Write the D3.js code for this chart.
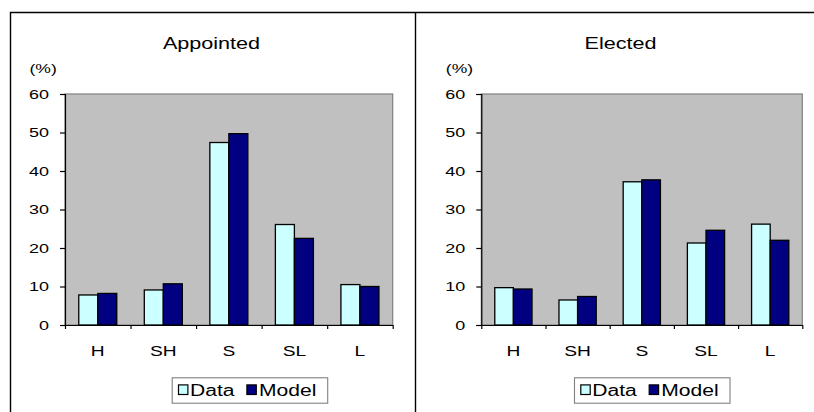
<!DOCTYPE html>
<html>
<head>
<meta charset="utf-8">
<script src="https://cdn.jsdelivr.net/npm/d3@7"></script>
<style>
  html, body { margin: 0; padding: 0; background: #ffffff; }
  svg { display: block; }
  text { font-family: "Liberation Sans", Arial, sans-serif; fill: #000; }
</style>
</head>
<body>
<svg id="chart" width="814" height="412"></svg>
<script>
// Distribution of outcomes by category, observed vs. model-predicted (%)
const categories = ["H", "SH", "S", "SL", "L"];
const seriesNames = ["Data", "Model"];
const seriesColors = ["#ccffff", "#000080"];
const yTicks = [0, 10, 20, 30, 40, 50, 60];

const appointedData  = [7.8, 9.1, 47.4, 26.1, 10.5];
const appointedModel = [8.2, 10.7, 49.7, 22.5, 10.0];
const electedData    = [9.7, 6.5, 37.2, 21.3, 26.2];
const electedModel   = [9.35, 7.4, 37.7, 24.6, 22.0];

const panels = [
  { title: "Appointed", data: appointedData, model: appointedModel, left: 10 },
  { title: "Elected",   data: electedData,   model: electedModel,   left: 415 }
];

const svg = d3.select("#chart");
const SX = 1.35; // horizontally widened lettering

function label(g, x, y, str, size, anchor) {
  return g.append("text")
    .attr("transform", `translate(${x},${y}) scale(${SX},1)`)
    .attr("text-anchor", anchor || "start")
    .style("font-size", size + "px")
    .text(str);
}

// panel frames
svg.append("path")
  .attr("d", "M10.5,412 V12.5 H814 M415.5,12.5 V412")
  .attr("fill", "none").attr("stroke", "#000").attr("stroke-width", 1.4);

panels.forEach((p, i) => {
  const g = svg.append("g");
  const x0 = i === 0 ? 65 : 481.3;
  const x1 = i === 0 ? 392.7 : 802.3;
  const yTop = 94, yBot = 325;

  const x = d3.scaleBand().domain(categories).range([x0, x1])
    .paddingInner(0.42).paddingOuter(0.21);
  const xs = d3.scaleBand().domain(seriesNames).range([0, x.bandwidth()]).padding(0);
  const y = d3.scaleLinear().domain([0, 60]).range([yBot, yTop]);

  // plot area
  g.append("rect")
    .attr("x", x0).attr("y", yTop).attr("width", x1 - x0).attr("height", yBot - yTop)
    .attr("fill", "#c0c0c0").attr("stroke", "#808080").attr("stroke-width", 1.2);

  // bars
  const rows = categories.map((c, k) => ({ c, vals: [p.data[k], p.model[k]] }));
  g.selectAll("g.cat").data(rows).join("g")
    .attr("transform", d => `translate(${x(d.c)},0)`)
    .selectAll("rect").data(d => d.vals.map((v, s) => ({ v, s })))
    .join("rect")
      .attr("x", d => xs(seriesNames[d.s]))
      .attr("width", xs.bandwidth())
      .attr("y", d => y(d.v))
      .attr("height", d => y(0) - y(d.v))
      .attr("fill", d => seriesColors[d.s])
      .attr("stroke", "#000").attr("stroke-width", 1.3);

  // y axis
  const ya = g.append("g").attr("transform", `translate(${x0},0)`)
    .call(d3.axisLeft(y).tickValues(yTicks).tickSize(5).tickFormat(""));
  ya.selectAll("path,line").attr("stroke", "#000").attr("stroke-width", 1.2);
  yTicks.forEach(t => label(g, x0 - 16, y(t) + 4.8, String(t), 13.3, "end"));

  // x axis: ticks at category boundaries
  const step = x.step();
  const bounds = d3.range(categories.length + 1).map(k => x0 + k * step);
  const xb = d3.scaleLinear().domain([x0, x1]).range([x0, x1]);
  const xa = g.append("g").attr("transform", `translate(0,${yBot})`)
    .call(d3.axisBottom(xb).tickValues(bounds).tickSize(4).tickSizeOuter(0).tickFormat(""));
  xa.selectAll("path,line").attr("stroke", "#000").attr("stroke-width", 1.2);
  categories.forEach(c => label(g, x(c) + x.bandwidth() / 2, 355.7, c, 14.2, "middle"));

  // titles
  label(g, p.left + 202.5 + (i === 0 ? -1 : 3), 49.3, p.title, 16, "middle");
  label(g, x0 - 35.5, 72.5, "(%)", 13, "start");

  // legend
  const lx = i === 0 ? 171.7 : 574;
  const ly = 377.3;
  g.append("rect").attr("x", lx + 0.5).attr("y", ly + 0.5).attr("width", 155.5).attr("height", 25.4)
    .attr("fill", "#fff").attr("stroke", "#808080").attr("stroke-width", 1.1);
  const items = [{ n: "Data", sx: 6.8, tx: 18.3 }, { n: "Model", sx: 75.2, tx: 87.3 }];
  items.forEach((it, s) => {
    g.append("rect").attr("x", lx + it.sx).attr("y", ly + 7.6).attr("width", 9.4).attr("height", 9.6)
      .attr("fill", seriesColors[s]).attr("stroke", "#000").attr("stroke-width", 1.2);
    label(g, lx + it.tx, ly + 18.8, it.n, 15.6, "start");
  });
});
</script>
</body>
</html>
